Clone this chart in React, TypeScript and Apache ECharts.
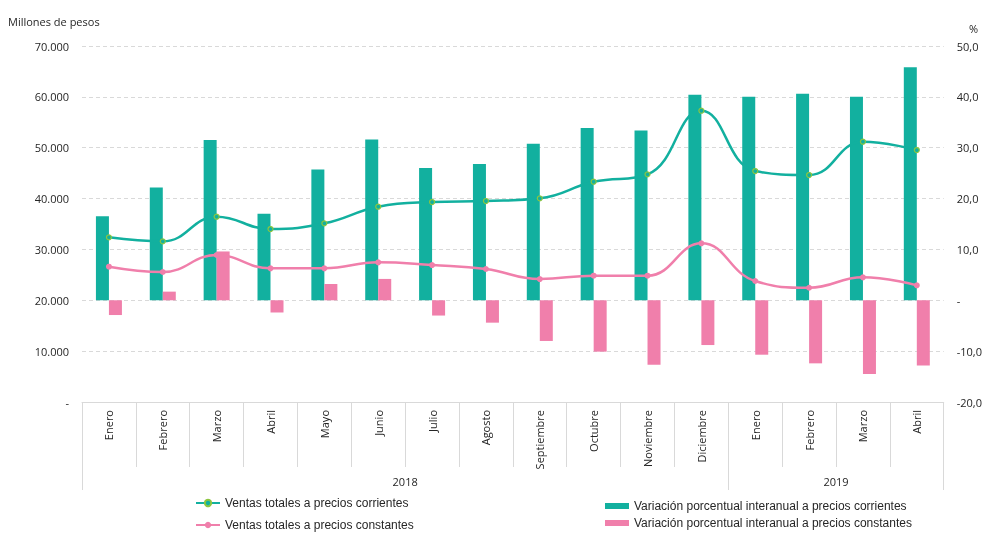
import React, { useEffect, useRef } from "react";
import * as echarts from "echarts";

const months = [
  "Enero", "Febrero", "Marzo", "Abril", "Mayo", "Junio", "Julio", "Agosto",
  "Septiembre", "Octubre", "Noviembre", "Diciembre",
  "Enero", "Febrero", "Marzo", "Abril",
];
const years = ["2018", "2019"];

const ventasCorrientes = [
  32380, 31590, 36430, 34010, 35130, 38400, 39320, 39520,
  40050, 43310, 44760, 57270, 45410, 44630, 51180, 49540,
];
const ventasConstantes = [
  26600, 25560, 28900, 26280, 26280, 27460, 26930, 26150,
  24180, 24840, 24840, 31200, 23790, 22470, 24510, 22940,
];
const varCorrientes = [
  16.5, 22.2, 31.5, 17.0, 25.7, 31.6, 26.0, 26.8,
  30.8, 33.9, 33.4, 40.4, 40.0, 40.6, 40.0, 45.8,
];
const varConstantes = [
  -2.9, 1.7, 9.6, -2.4, 3.2, 4.2, -3.0, -4.4,
  -8.0, -10.1, -12.7, -8.8, -10.7, -12.4, -14.5, -12.8,
];

const TEAL = "#12b09f";
const PINK = "#f07fab";
const DOT_GREEN = "#8cc63f";
const LABEL_FONT = "'Open Sans', sans-serif";
const LEGEND_FONT = "'Liberation Sans', Arial, sans-serif";

export default function App() {
  const ref = useRef<HTMLDivElement>(null);

  useEffect(() => {
    if (!ref.current) return;
    const chart = echarts.init(ref.current, null, { renderer: "svg" });
    const names = [
      "Ventas totales a precios corrientes",
      "Ventas totales a precios constantes",
      "Variación porcentual interanual a precios corrientes",
      "Variación porcentual interanual a precios constantes",
    ];
    chart.setOption({
      animation: false,
      title: [
        {
          text: "Millones de pesos",
          left: 3,
          top: 11,
          textStyle: { fontSize: 11, fontWeight: "normal", color: "#262626", fontFamily: LABEL_FONT },
        },
        {
          text: "%",
          left: 964,
          top: 18,
          textStyle: { fontSize: 11, fontWeight: "normal", color: "#262626", fontFamily: LABEL_FONT },
        },
      ],
      legend: [
        {
          data: [names[0], names[1]],
          orient: "vertical",
          left: 190,
          top: 492,
          height: 80,
          itemWidth: 24,
          itemHeight: 8,
          itemGap: 10,
          textStyle: { fontSize: 12, color: "#262626", fontFamily: LEGEND_FONT },
        },
        {
          data: [names[2], names[3]],
          orient: "vertical",
          left: 600,
          top: 495,
          height: 80,
          icon: "rect",
          itemWidth: 24,
          itemHeight: 6,
          itemGap: 5,
          textStyle: { fontSize: 12, color: "#262626", fontFamily: LEGEND_FONT },
        },
      ],
      grid: { left: 82, right: 36, top: 46, bottom: 131, containLabel: false },
      xAxis: [
        {
          type: "category",
          data: months,
          boundaryGap: true,
          axisLine: { show: true, onZero: false, lineStyle: { color: "#d9d9d9", width: 1 } },
          axisTick: { show: true, interval: 0, length: 65, lineStyle: { color: "#d9d9d9" } },
          axisLabel: {
            interval: 0,
            rotate: 90,
            margin: 8,
            fontSize: 11,
            color: "#262626",
            fontFamily: LABEL_FONT,
          },
        },
        {
          type: "value",
          min: 0,
          max: 16,
          position: "bottom",
          axisLine: { show: false, onZero: false },
          splitLine: { show: false },
          axisTick: {
            show: true,
            customValues: [0, 12, 16],
            length: 88,
            lineStyle: { color: "#d9d9d9" },
          },
          axisLabel: {
            customValues: [6, 14],
            formatter: (v: number) => (v < 12 ? years[0] : years[1]),
            margin: 74,
            fontSize: 11,
            color: "#262626",
            fontFamily: LABEL_FONT,
          },
        },
      ],
      yAxis: [
        {
          type: "value",
          min: 0,
          max: 70000,
          interval: 10000,
          axisLine: { show: false },
          axisTick: { show: false },
          splitLine: { show: true, lineStyle: { color: "#d9d9d9", type: [4, 3] } },
          axisLabel: {
            margin: 13,
            fontSize: 11,
            color: "#262626",
            fontFamily: LABEL_FONT,
            formatter: (v: number) => (v === 0 ? "-" : v.toLocaleString("de-DE")),
          },
        },
        {
          type: "value",
          min: -20,
          max: 50,
          interval: 10,
          position: "right",
          axisLine: { show: false },
          axisTick: { show: false },
          splitLine: { show: false },
          axisLabel: {
            margin: 13,
            fontSize: 11,
            color: "#262626",
            fontFamily: LABEL_FONT,
            formatter: (v: number) => (v === 0 ? "-" : v.toFixed(1).replace(".", ",")),
          },
        },
      ],
      series: [
        {
          name: names[2],
          type: "bar",
          xAxisIndex: 0,
          yAxisIndex: 1,
          data: varCorrientes,
          barWidth: 13,
          barGap: "0%",
          itemStyle: { color: TEAL },
          z: 2,
        },
        {
          name: names[3],
          type: "bar",
          xAxisIndex: 0,
          yAxisIndex: 1,
          data: varConstantes,
          barWidth: 13,
          barGap: "0%",
          itemStyle: { color: PINK },
          z: 2,
        },
        {
          name: names[0],
          type: "line",
          xAxisIndex: 0,
          yAxisIndex: 0,
          data: ventasCorrientes,
          smooth: 0.45,
          symbol: "circle",
          symbolSize: 5,
          lineStyle: { color: TEAL, width: 2.5 },
          itemStyle: { color: TEAL, borderColor: DOT_GREEN, borderWidth: 1.2 },
          z: 5,
        },
        {
          name: names[1],
          type: "line",
          xAxisIndex: 0,
          yAxisIndex: 0,
          data: ventasConstantes,
          smooth: 0.45,
          symbol: "circle",
          symbolSize: 6,
          lineStyle: { color: PINK, width: 2.5 },
          itemStyle: { color: PINK },
          z: 5,
        },
      ],
    });
    return () => chart.dispose();
  }, []);

  return (
    <div
      ref={ref}
      style={{ position: "fixed", left: 0, top: 0, width: 985, height: 533 }}
    />
  );
}
